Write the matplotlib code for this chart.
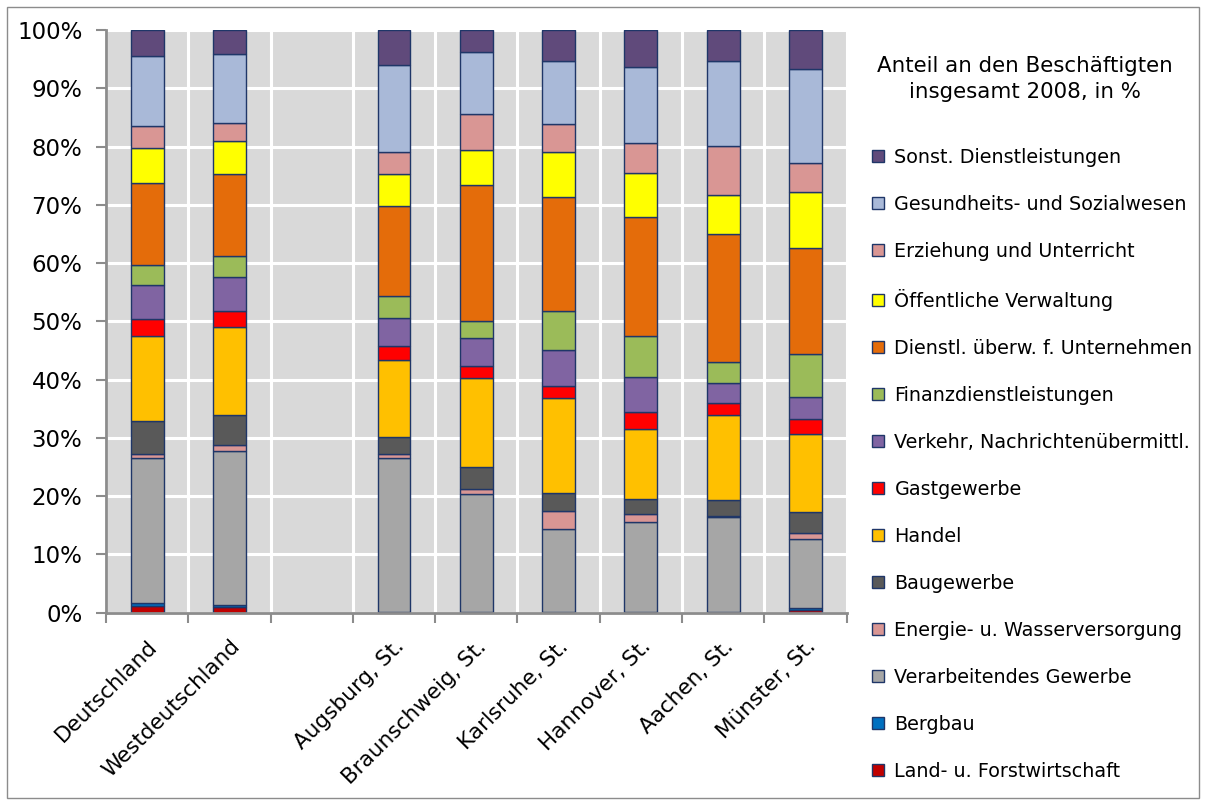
import numpy as np
import matplotlib
matplotlib.use("Agg")
import matplotlib.pyplot as plt
from matplotlib.patches import Rectangle
from matplotlib.ticker import FixedLocator, PercentFormatter

plt.rcParams['font.family'] = ['DejaVu Sans']

categories = ["Deutschland", "Westdeutschland", "", "Augsburg, St.", "Braunschweig, St.",
              "Karlsruhe, St.", "Hannover, St.", "Aachen, St.", "Münster, St."]

sectors = ["Land- u. Forstwirtschaft", "Bergbau", "Verarbeitendes Gewerbe",
           "Energie- u. Wasserversorgung", "Baugewerbe", "Handel", "Gastgewerbe",
           "Verkehr, Nachrichtenübermittl.", "Finanzdienstleistungen",
           "Dienstl. überw. f. Unternehmen", "Öffentliche Verwaltung",
           "Erziehung und Unterricht", "Gesundheits- und Sozialwesen",
           "Sonst. Dienstleistungen"]

nan = np.nan
land    = [1.2, 1.0, nan, 0.1, 0.1, 0.1, 0.1, 0.1, 0.5]
bergbau = [0.4, 0.35, nan, 0.05, 0.05, 0.05, 0.05, 0.05, 0.35]
verarb  = [24.9, 26.4, nan, 26.4, 20.2, 14.1, 15.4, 16.2, 11.7]
energie = [0.7, 1.0, nan, 0.7, 0.75, 3.1, 1.3, 0.3, 1.0]
bau     = [5.7, 5.1, nan, 3.0, 3.8, 3.2, 2.7, 2.7, 3.6]
handel  = [14.5, 15.2, nan, 13.2, 15.3, 16.2, 11.9, 14.6, 13.4]
gast    = [2.9, 2.7, nan, 2.3, 2.1, 2.1, 2.9, 2.1, 2.6]
verkehr = [5.9, 5.8, nan, 4.8, 4.8, 6.2, 6.1, 3.3, 3.7]
finanz  = [3.4, 3.7, nan, 3.9, 2.9, 6.6, 7.0, 3.7, 7.5]
dienstl = [14.0, 14.0, nan, 15.5, 23.3, 19.6, 20.4, 22.0, 18.1]
oeff    = [6.1, 5.6, nan, 5.5, 6.1, 7.7, 7.6, 6.7, 9.5]
erz     = [3.7, 3.2, nan, 3.7, 6.1, 4.8, 5.1, 8.4, 5.0]
gesund  = [12.0, 11.7, nan, 14.9, 10.6, 10.9, 13.0, 14.6, 16.2]
sonst   = [4.5, 4.2, nan, 6.1, 3.8, 5.3, 6.4, 5.3, 6.6]

series = [land, bergbau, verarb, energie, bau, handel, gast, verkehr, finanz,
          dienstl, oeff, erz, gesund, sonst]

colors = ["#C00000", "#0070C0", "#A6A6A6", "#D99694", "#595959", "#FFC000", "#FF0000",
          "#8064A2", "#9BBB59", "#E46C0A", "#FFFF00", "#D99694", "#A9B9D8", "#604A7B"]

vals = np.array(series, dtype=float)
totals = np.nansum(vals, axis=0)
with np.errstate(invalid="ignore", divide="ignore"):
    pct = np.where(totals > 0, vals / np.where(totals > 0, totals, 1) * 100, nan)

fig = plt.figure(figsize=(12.06, 8.05), dpi=100)
fig.patches.append(Rectangle((7 / 1206, 7 / 805), 1 - 14 / 1206, 1 - 14 / 805,
                             transform=fig.transFigure, fill=False,
                             edgecolor="#8C8C8C", linewidth=1.0, zorder=0))

ax = fig.add_axes([106 / 1206, 1 - 612.5 / 805, (846.5 - 106) / 1206, (612.5 - 30) / 805])
ax.set_facecolor("#D9D9D9")

x = np.arange(len(categories))
bottom = np.zeros(len(categories))
handles = []
for name, vals_s, col in zip(sectors, pct, colors):
    b = ax.bar(x, vals_s, width=0.40, bottom=bottom, color=col,
               edgecolor="#1F3668", linewidth=1.0, label=name, zorder=3)
    handles.append(b)
    bottom = bottom + np.nan_to_num(vals_s)

ax.set_xlim(-0.5, len(categories) - 0.5)
ax.set_ylim(0, 100)
ax.yaxis.set_major_locator(FixedLocator(np.arange(0, 101, 10)))
ax.yaxis.set_major_formatter(PercentFormatter(decimals=0))
ax.set_xticks(x)
ax.set_xticklabels(categories, rotation=45, ha="right", rotation_mode="anchor",
                   fontsize=15.5)
ax.xaxis.set_minor_locator(FixedLocator(np.arange(-0.5, len(categories), 1.0)))
ax.tick_params(axis="x", which="major", length=0, pad=17)
ax.tick_params(axis="x", which="minor", length=7, width=1.5, color="#8C8C8C")
ax.tick_params(axis="y", length=7, width=1.5, color="#8C8C8C", labelsize=16.5, pad=10)

ax.grid(axis="y", which="major", color="white", linewidth=2.2, zorder=1)
ax.grid(axis="x", which="minor", color="white", linewidth=2.2, zorder=1)
ax.set_axisbelow(True)
for s in ["top", "right"]:
    ax.spines[s].set_visible(False)
for s in ["left", "bottom"]:
    ax.spines[s].set_color("#8C8C8C")
    ax.spines[s].set_linewidth(2.0)
    ax.spines[s].set_zorder(4)

fig.text(1025 / 1206, 1 - 79 / 805, "Anteil an den Beschäftigten\ninsgesamt 2008, in %",
         ha="center", va="center", fontsize=15.4, linespacing=1.42)

leg = fig.legend(handles[::-1], sectors[::-1], loc="upper left",
                 bbox_to_anchor=(872 / 1206, 1 - 148 / 805), frameon=False,
                 fontsize=13.8, handlelength=0.62, handleheight=0.62,
                 handletextpad=0.55, labelspacing=1.46, borderaxespad=0,
                 borderpad=0)

fig.savefig("out.png", dpi=100)
